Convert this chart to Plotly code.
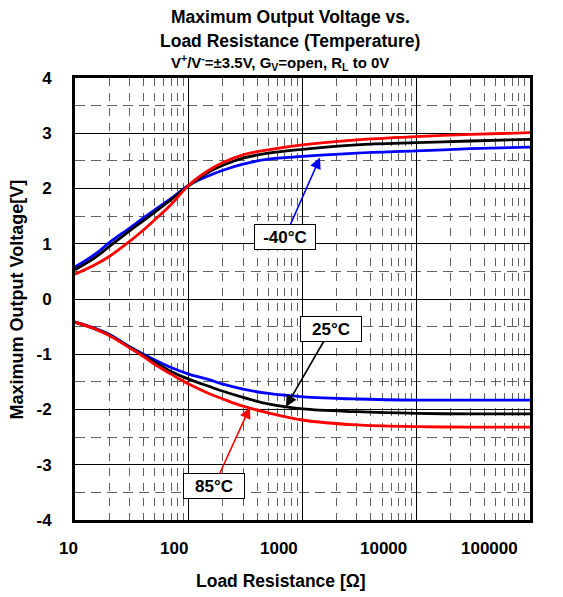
import math
import plotly.graph_objects as go

# ---------------- data ----------------
resistance = [10, 15, 20, 30, 40, 50, 70, 100, 150, 200, 300, 500, 1000, 3000, 10000, 30000, 100000]

# positive swing (V_OH)
voh_m40 = [0.58, 0.81, 1.02, 1.28, 1.47, 1.61, 1.82, 2.06, 2.23, 2.33, 2.44, 2.53, 2.58, 2.64, 2.68, 2.72, 2.75]
voh_25 = [0.53, 0.75, 0.95, 1.23, 1.42, 1.57, 1.80, 2.05, 2.30, 2.42, 2.55, 2.64, 2.71, 2.79, 2.83, 2.86, 2.89]
voh_85 = [0.45, 0.62, 0.77, 1.04, 1.25, 1.43, 1.71, 2.06, 2.33, 2.47, 2.61, 2.70, 2.79, 2.88, 2.94, 2.98, 3.01]

# negative swing (V_OL)
vol_m40 = [-0.42, -0.53, -0.64, -0.86, -1.00, -1.10, -1.24, -1.36, -1.46, -1.54, -1.63, -1.71, -1.77, -1.81, -1.83, -1.83, -1.83]
vol_25 = [-0.42, -0.54, -0.65, -0.87, -1.02, -1.14, -1.31, -1.45, -1.58, -1.67, -1.78, -1.90, -1.99, -2.04, -2.07, -2.08, -2.08]
vol_85 = [-0.42, -0.54, -0.66, -0.88, -1.04, -1.18, -1.36, -1.54, -1.71, -1.81, -1.94, -2.06, -2.19, -2.28, -2.31, -2.32, -2.32]

x_tick_values = [10, 100, 1000, 10000, 100000]
x_tick_labels = ["10", "100", "1000", "10000", "100000"]
y_tick_values = [4, 3, 2, 1, 0, -1, -2, -3, -4]
y_tick_labels = ["4", "3", "2", "1", "0", "-1", "-2", "-3", "-4"]

# callout labels: text, point (resistance, voltage) the arrow points to
callout_text = ["-40°C", "25°C", "85°C"]
callout_r = [1426, 716, 345]
callout_v = [2.56, -1.95, -1.96]

# ---------------- styles ----------------
FONT = "Liberation Sans, Arial, sans-serif"
colors = {"m40": "#0000FF", "25": "#000000", "85": "#FF0000"}
callout_colors = ["#0000FF", "#000000", "#FF0000"]
callout_offsets = [(-35, 79), (45, -78), (-36, 79)]
x_label_shift = [5, 1, -3, -7, -10]

fig = go.Figure()

series = [
    (voh_m40, vol_m40, colors["m40"]),
    (voh_25, vol_25, colors["25"]),
    (voh_85, vol_85, colors["85"]),
]
for voh, vol, col in series:
    for ys in (voh, vol):
        fig.add_trace(go.Scatter(
            x=resistance, y=ys, mode="lines",
            line=dict(color=col, width=2.8, shape="spline", smoothing=1.0),
            showlegend=False, hoverinfo="skip",
        ))

fig.update_xaxes(
    type="log", range=[1, 5],
    tickvals=x_tick_values, showticklabels=False,
    showgrid=True, gridcolor="#000000", gridwidth=1,
    minor=dict(dtick="D1", showgrid=True, gridcolor="#606060",
               gridwidth=1, griddash="8px,7px", ticks=""),
    showline=True, linecolor="#000000", linewidth=3, mirror=True,
    ticks="", zeroline=False,
)
fig.update_yaxes(
    range=[-4, 4],
    tickvals=y_tick_values, ticktext=y_tick_labels,
    tickfont=dict(family=FONT, size=17, color="#000000", weight="bold"),
    ticklabelstandoff=17,
    showgrid=True, gridcolor="#000000", gridwidth=1,
    minor=dict(dtick=0.5, showgrid=True, gridcolor="#606060",
               gridwidth=1, griddash="10px,6px", ticks=""),
    showline=True, linecolor="#000000", linewidth=3, mirror=True,
    ticks="", zeroline=False,
)

annotations = []
# x tick labels
for v, lab, sh in zip(x_tick_values, x_tick_labels, x_label_shift):
    annotations.append(dict(
        x=math.log10(v), xref="x", y=-0.0656, yref="paper",
        text=lab, showarrow=False, xanchor="right", yanchor="middle",
        xshift=sh, font=dict(family=FONT, size=17, color="#000000", weight="bold"),
    ))

# titles
title_lines = [
    ("Maximum Output Voltage vs.", 0.4747, 1.139, 17.5),
    ("Load Resistance (Temperature)", 0.4736, 1.0826, 17.5),
    ("V<sup>+</sup>/V<sup>-</sup>=±3.5V, G<sub>V</sub>=open, R<sub>L</sub> to 0V", 0.451, 1.0346, 15),
]
for txt, xp, yp, fs in title_lines:
    annotations.append(dict(
        x=xp, y=yp, xref="paper", yref="paper", text=txt, showarrow=False,
        xanchor="center", yanchor="middle",
        font=dict(family=FONT, size=fs, color="#000000", weight="bold"),
    ))

# axis titles
annotations.append(dict(
    x=0.4527, y=-0.139, xref="paper", yref="paper", text="Load Resistance [Ω]",
    showarrow=False, xanchor="center", yanchor="middle",
    font=dict(family=FONT, size=17.5, color="#000000", weight="bold"),
))
annotations.append(dict(
    x=-0.1264, y=0.5, xref="paper", yref="paper", text="Maximum Output Voltage[V]",
    showarrow=False, xanchor="center", yanchor="middle", textangle=-90,
    font=dict(family=FONT, size=18, color="#000000", weight="bold"),
))

# callouts
for txt, r, v, col, (axo, ayo) in zip(callout_text, callout_r, callout_v, callout_colors, callout_offsets):
    annotations.append(dict(
        x=math.log10(r), y=v, xref="x", yref="y", text=txt,
        showarrow=True, ax=axo, ay=ayo, arrowcolor=col, arrowwidth=1.6,
        arrowhead=2, arrowsize=1.4, standoff=0,
        bgcolor="#FFFFFF", bordercolor="#000000", borderwidth=1, borderpad=2,
        width=56, height=20,
        font=dict(family=FONT, size=17, color="#000000", weight="bold"),
    ))

# the page body adds an 8px margin, so the figure is 8px smaller than the window
fig.update_layout(
    width=555, height=589,
    margin=dict(l=67, r=33, t=70, b=77),
    paper_bgcolor="#FFFFFF", plot_bgcolor="#FFFFFF",
    annotations=annotations,
    showlegend=False,
)

fig.write_html("out.html")
